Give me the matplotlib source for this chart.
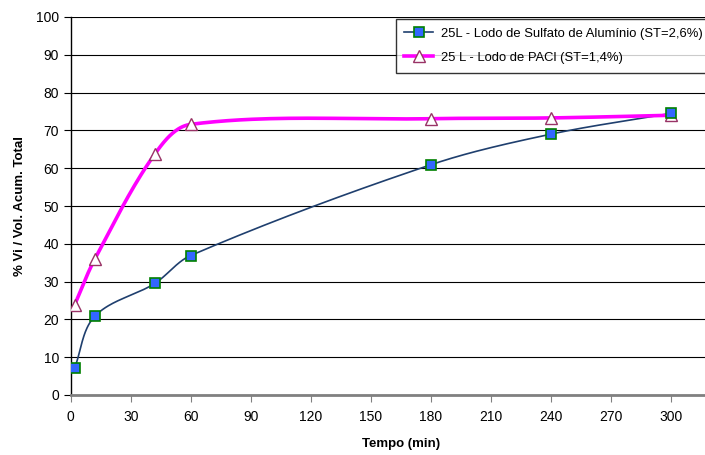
import numpy as np
import matplotlib.pyplot as plt

plt.rcParams['font.family'] = ['Liberation Sans', 'DejaVu Sans']

tempo = [2, 12, 42, 60, 180, 240, 300]
aluminio = [7.2, 20.8, 29.5, 36.9, 60.9, 69.0, 74.5]
pacl = [23.9, 35.9, 63.7, 71.6, 73.1, 73.3, 74.0]

label_al = "25L - Lodo de Sulfato de Alumínio (ST=2,6%)"
label_pacl = "25 L - Lodo de PACl (ST=1,4%)"

# escala aproximada em pixels por unidade, usada so para suavizar a curva
SX, SY = 2.0, 3.78


def smooth(xs, ys, n=40):
    # curva suavizada por Bezier: tangente pelos vizinhos, alca = 1/3 da corda
    p = np.column_stack([np.array(xs) * SX, np.array(ys) * SY]).astype(float)
    pts = []
    for i in range(len(p) - 1):
        p0 = p[i - 1] if i > 0 else p[i]
        p1, p2 = p[i], p[i + 1]
        p3 = p[i + 2] if i + 2 < len(p) else p[i + 1]
        chord = np.linalg.norm(p2 - p1)
        t1 = (p2 - p0) / np.linalg.norm(p2 - p0)
        t2 = (p3 - p1) / np.linalg.norm(p3 - p1)
        b1 = p1 + t1 * chord / 3
        b2 = p2 - t2 * chord / 3
        t = np.linspace(0, 1, n)[:, None]
        seg = ((1 - t) ** 3) * p1 + 3 * ((1 - t) ** 2) * t * b1 + 3 * (1 - t) * t ** 2 * b2 + t ** 3 * p2
        pts.append(seg)
    pts = np.vstack(pts)
    return pts[:, 0] / SX, pts[:, 1] / SY


fig = plt.figure(figsize=(7.05, 4.55), dpi=100)
ax = fig.add_axes([70.7 / 705, 60 / 455, 660 / 705, 378 / 455])

ax.set_xlim(0, 330)
ax.set_ylim(0, 100)
ax.set_xticks(np.arange(0, 301, 30))
ax.set_yticks(np.arange(0, 101, 10))
ax.yaxis.grid(True, color='black', linewidth=0.8)
ax.set_axisbelow(True)

sx, sy = smooth(tempo, aluminio)
ax.plot(sx, sy, color='#1F3F6E', linewidth=1.2, zorder=3)
sx, sy = smooth(tempo, pacl)
ax.plot(sx, sy, color='#FF00FF', linewidth=2.6, zorder=3)

ax.plot(tempo, aluminio, linestyle='none', marker='s', markersize=7.5,
        markerfacecolor='#3366FF', markeredgecolor='#008000', markeredgewidth=1.2, zorder=5)
ax.plot(tempo, pacl, linestyle='none', marker='^', markersize=8.5,
        markerfacecolor='white', markeredgecolor='#993366', markeredgewidth=1.0, zorder=4)

# entradas da legenda (linha + marcador)
h1, = ax.plot([], [], color='#1F3F6E', linewidth=1.2, marker='s', markersize=7,
              markerfacecolor='#3366FF', markeredgecolor='#008000', markeredgewidth=1.2)
h2, = ax.plot([], [], color='#FF00FF', linewidth=2.6, marker='^', markersize=8,
              markerfacecolor='white', markeredgecolor='#993366', markeredgewidth=1.0)
leg = fig.legend([h1, h2], [label_al, label_pacl], loc='upper left',
                 bbox_to_anchor=(395.5 / 705, 1 - 19 / 455), fontsize=9.4,
                 frameon=True, fancybox=False, borderpad=0.68, labelspacing=0.9,
                 handlelength=2.2, handletextpad=0.6, borderaxespad=0)
leg.get_frame().set_edgecolor('black')
leg.get_frame().set_linewidth(1.0)

for side in ['top', 'right']:
    ax.spines[side].set_visible(False)
ax.spines['left'].set_color('black')
ax.spines['left'].set_linewidth(1.0)
ax.spines['bottom'].set_color('#808080')
ax.spines['bottom'].set_linewidth(2.0)

ax.tick_params(axis='both', direction='out', length=5, width=0.8, labelsize=10, colors='black')
ax.tick_params(axis='x', pad=6, color='#808080')

ax.set_xlabel("Tempo (min)", fontsize=9.5, fontweight='bold', labelpad=10)
ax.set_ylabel("% Vi / Vol. Acum. Total", fontsize=9.5, fontweight='bold', labelpad=7)

fig.savefig('out.png', dpi=100)
